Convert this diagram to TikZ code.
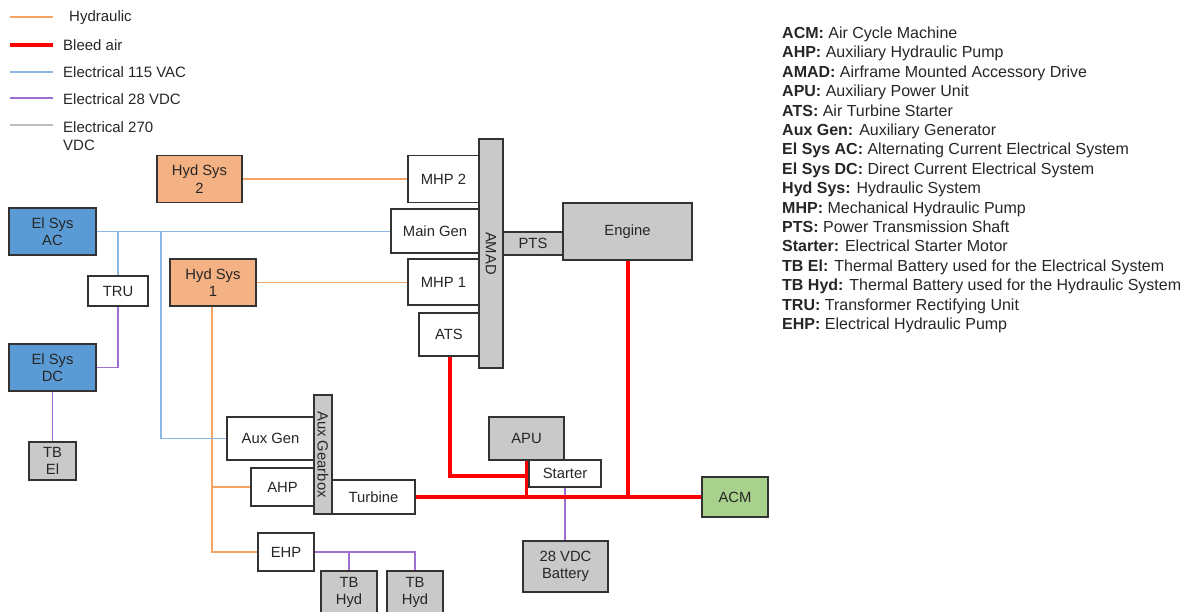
\documentclass[tikz,border=0pt]{standalone}
\usepackage{fontspec}
\setmainfont{Liberation Sans}
\definecolor{hydfill}{HTML}{F4B183}
\definecolor{elfill}{HTML}{5B9BD5}
\definecolor{grayfill}{HTML}{C9C9C9}
\definecolor{acmfill}{HTML}{A9D18E}
\definecolor{hydline}{HTML}{F4A465}
\definecolor{acline}{HTML}{8DB7E4}
\definecolor{dcline}{HTML}{9E6FD0}
\definecolor{hvline}{HTML}{BFBFBF}
\definecolor{txt}{HTML}{262626}
\begin{document}
\begin{tikzpicture}[x=1pt,y=-1pt,
  box/.style={draw=black!80, line width=1.2pt, text=txt, font=\fontsize{14.8}{17.5}\selectfont, align=center, inner sep=0pt},
  hbox/.style={box, fill=hydfill},
  ebox/.style={box, fill=elfill},
  gbox/.style={box, fill=grayfill},
  wbox/.style={box, fill=white},
  abox/.style={box, fill=acmfill},
  hydl/.style={draw=hydline, line width=1.3pt},
  bleed/.style={draw=red, line width=3.5pt},
  ac/.style={draw=acline, line width=1.3pt},
  dc/.style={draw=dcline, line width=1.3pt},
  hv/.style={draw=hvline, line width=1.3pt},
  legtext/.style={anchor=west, text=txt, font=\fontsize{15}{18}\selectfont, align=left, inner sep=0pt},
  glos/.style={anchor=base west, text=txt, font=\fontsize{16}{18}\selectfont, inner sep=0pt}]
\useasboundingbox (0,0) rectangle (1190,612);

% ---------- legend ----------
\coordinate (l1a) at (10,17);  \coordinate (l1b) at (53,17);
\coordinate (l2a) at (10,45);  \coordinate (l2b) at (53,45);
\coordinate (l3a) at (10,72);  \coordinate (l3b) at (53,72);
\coordinate (l4a) at (10,98);  \coordinate (l4b) at (53,98);
\coordinate (l5a) at (10,125); \coordinate (l5b) at (53,125);
\draw[hydl] (l1a) -- (l1b);
\draw[bleed] (l2a) -- (l2b);
\draw[ac] (l3a) -- (l3b);
\draw[dc] (l4a) -- (l4b);
\draw[hv] (l5a) -- (l5b);
\node[legtext] (lt1) at (69,18) {Hydraulic};
\node[legtext] (lt2) at (63,45.5) {Bleed air};
\node[legtext] (lt3) at (63,72.5) {Electrical 115 VAC};
\node[legtext] (lt4) at (63,99) {Electrical 28 VDC};
\node[legtext] (lt5) at (63,136.5) {Electrical 270\\VDC};

% ---------- connector helper coordinates ----------
\coordinate (jac) at (161,231.5);
\coordinate (jr) at (526.5,476);
\coordinate (xh) at (212,0);
\coordinate (xa) at (450,0);
\coordinate (xe) at (628,0);

% ---------- boxes ----------
\path
  (199.5,179) node[hbox, minimum width=85pt, minimum height=47pt] (hyd2) {Hyd Sys\\2}
  (52.5,231.5)  node[ebox, minimum width=87pt, minimum height=47pt] (elac) {El Sys\\AC}
  (118,291)     node[wbox, minimum width=60pt, minimum height=30pt] (tru) {TRU}
  (213,282.5)   node[hbox, minimum width=86pt, minimum height=47pt] (hyd1) {Hyd Sys\\1}
  (52.5,367.5)  node[ebox, minimum width=87pt, minimum height=47pt] (eldc) {El Sys\\DC}
  (52.5,461)    node[gbox, minimum width=47pt, minimum height=38pt] (tbel) {TB\\El}
  (270.5,438.5) node[wbox, minimum width=87pt, minimum height=43pt] (auxgen) {Aux Gen}
  (282.5,487)   node[wbox, minimum width=63pt, minimum height=38pt] (ahp) {AHP}
  (373.5,497)   node[wbox, minimum width=83pt, minimum height=34pt] (turbine) {Turbine}
  (323,454.5)   node[gbox, minimum width=18pt, minimum height=119pt] (gearbox) {}
  (286,552)     node[wbox, minimum width=56pt, minimum height=38pt] (ehp) {EHP}
  (349,592.5)   node[gbox, minimum width=56pt, minimum height=43pt] (tbhyd1) {TB\\Hyd}
  (415,592.5)   node[gbox, minimum width=56pt, minimum height=43pt] (tbhyd2) {TB\\Hyd}
  (443.5,179)   node[wbox, minimum width=71pt, minimum height=47pt] (mhp2) {MHP 2}
  (435,231)     node[wbox, minimum width=88pt, minimum height=44pt] (maingen) {Main Gen}
  (443.5,282)   node[wbox, minimum width=71pt, minimum height=46pt] (mhp1) {MHP 1}
  (449,334.5)   node[wbox, minimum width=60pt, minimum height=43pt] (ats) {ATS}
  (491,253.5)   node[gbox, minimum width=24pt, minimum height=229pt] (amad) {}
  (533,243.5)   node[gbox, minimum width=60pt, minimum height=23pt] (pts) {PTS}
  (627.5,231.5) node[gbox, minimum width=129pt, minimum height=57pt] (engine) {Engine}
  (526.5,438.5) node[gbox, minimum width=75pt, minimum height=43pt] (apu) {APU}
  (565,473.5)   node[wbox, minimum width=72pt, minimum height=27pt] (starter) {Starter}
  (735,497)     node[abox, minimum width=66pt, minimum height=40pt] (acm) {ACM}
  (565.5,566.5) node[gbox, minimum width=85pt, minimum height=51pt] (battery) {28 VDC\\Battery};
\node[rotate=-90, text=txt, font=\fontsize{14.8}{17}\selectfont, inner sep=0pt] (amadlbl) at (amad.center) {AMAD};
\node[rotate=-90, text=txt, font=\fontsize{14.8}{17}\selectfont, inner sep=0pt] (gblbl) at (gearbox.center) {Aux Gearbox};

% hydraulic
\draw[hydl] (hyd2.east) -- (mhp2.west);
\draw[hydl] (hyd1.east) -- (hyd1.east -| mhp1.west);
\draw[hydl] (hyd1.south -| xh) |- (ehp.west);
\draw[hydl] (ahp.west) -- (ahp.west -| xh);
% electrical AC
\draw[ac] (elac.east) -- (elac.east -| maingen.west);
\draw[ac] (tru.north |- elac.east) -- (tru.north);
\draw[ac] (jac) |- (auxgen.west);
% electrical DC
\draw[dc] (tru.south) |- (eldc.east);
\draw[dc] (eldc.south) -- (tbel.north);
\draw[dc] (ehp.east) -| (tbhyd2.north);
\draw[dc] (tbhyd1.north |- ehp.east) -- (tbhyd1.north);
\draw[dc] (starter.south) -- (starter.south |- battery.north);
% bleed air
\draw[bleed] (turbine.east) -- (acm.west);
\draw[bleed] (engine.south -| xe) -- (xe |- acm.west);
\draw[bleed] (ats.south -| xa) |- (jr);
\draw[bleed] (apu.south) -- (apu.south |- turbine.east);

% ---------- glossary ----------
\foreach \i/\t/\d in {0/ACM:/Air Cycle Machine,
  1/AHP:/Auxiliary Hydraulic Pump,
  2/AMAD:/Airframe Mounted Accessory Drive,
  3/APU:/Auxiliary Power Unit,
  4/ATS:/Air Turbine Starter,
  5/Aux Gen:/Auxiliary Generator,
  6/El Sys AC:/Alternating Current Electrical System,
  7/El Sys DC:/Direct Current Electrical System,
  8/Hyd Sys:/Hydraulic System,
  9/MHP:/Mechanical Hydraulic Pump,
  10/PTS:/Power Transmission Shaft,
  11/Starter:/Electrical Starter Motor,
  12/TB El:/Thermal Battery used for the Electrical System,
  13/TB Hyd:/Thermal Battery used for the Hydraulic System,
  14/TRU:/Transformer Rectifying Unit,
  15/EHP:/Electrical Hydraulic Pump}
  \node[glos] (g\i) at (782,{38.5+19.4*\i}) {\textbf{\t} \d};
\end{tikzpicture}
\end{document}
